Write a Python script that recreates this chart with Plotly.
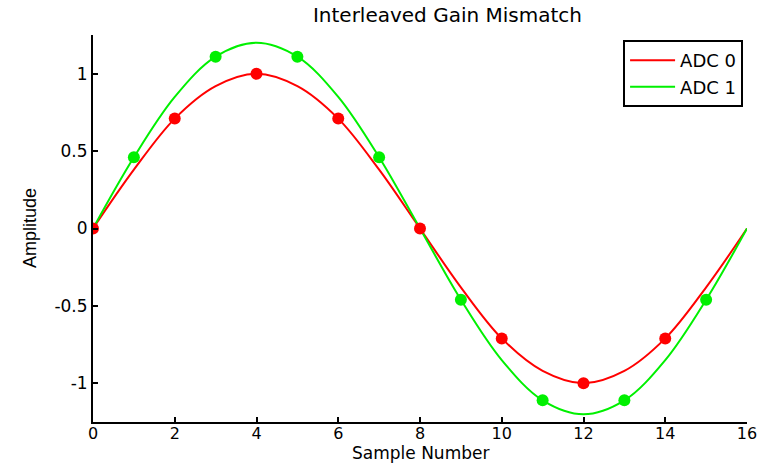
import plotly.graph_objects as go

# Sample positions and amplitudes
samples = list(range(17))
adc0_curve = [0, 0.38, 0.71, 0.92, 1.0, 0.92, 0.71, 0.38, 0, -0.38, -0.71, -0.92, -1.0, -0.92, -0.71, -0.38, 0]
adc1_curve = [0, 0.46, 0.85, 1.11, 1.2, 1.11, 0.85, 0.46, 0, -0.46, -0.85, -1.11, -1.2, -1.11, -0.85, -0.46, 0]

adc0_x = [0, 2, 4, 6, 8, 10, 12, 14]
adc0_y = [0, 0.71, 1.0, 0.71, 0, -0.71, -1.0, -0.71]
adc1_x = [1, 3, 5, 7, 9, 11, 13, 15]
adc1_y = [0.46, 1.11, 1.11, 0.46, -0.46, -1.11, -1.11, -0.46]

x_ticks = [0, 2, 4, 6, 8, 10, 12, 14, 16]
y_ticks = [-1, -0.5, 0, 0.5, 1]
y_tick_labels = ["-1", "-0.5", "0", "0.5", "1"]

RED = "#ff0000"
GREEN = "#00f000"
WIDE = "DejaVu Sans, Verdana, sans-serif"
NARROW = "Liberation Sans, Arial, sans-serif"

fig = go.Figure()
fig.add_trace(go.Scatter(x=samples, y=adc0_curve, mode="lines", name="ADC 0",
                         line=dict(color=RED, width=2, shape="spline")))
fig.add_trace(go.Scatter(x=samples, y=adc1_curve, mode="lines", name="ADC 1",
                         line=dict(color=GREEN, width=2, shape="spline")))
fig.add_trace(go.Scatter(x=adc0_x, y=adc0_y, mode="markers", showlegend=False,
                         marker=dict(color=RED, size=12)))
fig.add_trace(go.Scatter(x=adc1_x, y=adc1_y, mode="markers", showlegend=False,
                         marker=dict(color=GREEN, size=12)))

fig.update_layout(
    width=773, height=465,
    margin=dict(l=93, r=26, t=35, b=43, autoexpand=False),
    paper_bgcolor="white", plot_bgcolor="white",
    font=dict(family=WIDE, size=17, color="black"),
    title=dict(text="Interleaved Gain Mismatch", x=0.5420, xanchor="center",
               xref="paper", y=1 - 15 / 465, yref="container", yanchor="middle",
               font=dict(size=20)),
    showlegend=True,
    legend=dict(x=0.994, y=0.987, xanchor="right", yanchor="top",
                bordercolor="black", borderwidth=2, bgcolor="white",
                font=dict(size=18), tracegroupgap=0, itemwidth=45),
    xaxis=dict(range=[0, 16], tickvals=x_ticks, showline=True, linecolor="black",
               linewidth=2, ticks="inside", ticklen=5, tickwidth=2, tickcolor="black",
               showgrid=False, zeroline=False, mirror=False, automargin=False,
               ticklabelstandoff=-4, tickfont=dict(size=16)),
    yaxis=dict(range=[-1.25, 1.25], tickvals=y_ticks, ticktext=y_tick_labels,
               showline=True, linecolor="black", linewidth=2, ticks="inside",
               ticklen=5, tickwidth=2, tickcolor="black", showgrid=False,
               zeroline=False, mirror=False, automargin=False,
               tickfont=dict(size=17)),
    annotations=[
        dict(text="Sample Number", xref="paper", yref="paper", x=0.5, y=-0.080,
             xanchor="center", yanchor="middle", showarrow=False,
             font=dict(family=WIDE, size=17)),
        dict(text="Amplitude", xref="paper", x=-0.097, yref="paper", y=0.5,
             xanchor="center", yanchor="middle", textangle=-90, showarrow=False,
             font=dict(family=NARROW, size=18)),
    ],
)

fig.write_html("out.html", config={"displayModeBar": False},
               post_script="document.body.style.margin='0';")
